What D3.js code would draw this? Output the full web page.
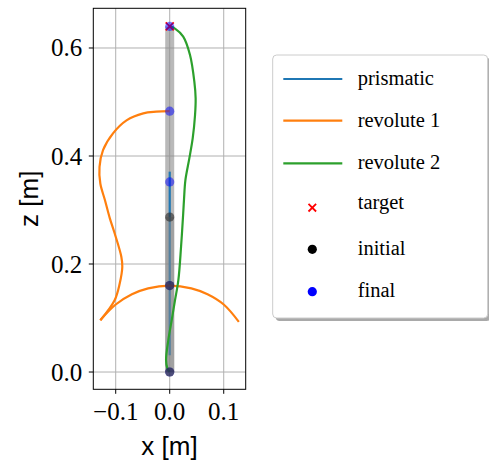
<!DOCTYPE html>
<html><head><meta charset="utf-8">
<script src="https://cdn.jsdelivr.net/npm/d3@7"></script>
<style>body{margin:0;background:#fff;} svg{display:block;}</style>
</head><body>
<script>
// ---- data ----
const xTicks = [-0.1, 0.0, 0.1];
const xTickLabels = ["\u22120.1", "0.0", "0.1"];
const zTicks = [0.0, 0.2, 0.4, 0.6];
const zTickLabels = ["0.0", "0.2", "0.4", "0.6"];

const prismaticX = [0, 0];
const prismaticZ = [0.031, 0.371];

const rev1aX = [0, -0.025, -0.049, -0.08, -0.105, -0.1235, -0.130, -0.1285, -0.120, -0.111, -0.102, -0.0896, -0.0878, -0.0926, -0.102, -0.1285];
const rev1aZ = [0.483, 0.482, 0.479, 0.466, 0.442, 0.411, 0.380, 0.349, 0.3185, 0.285, 0.257, 0.2135, 0.195, 0.164, 0.133, 0.096];
const rev1bX = [-0.1285, -0.1, -0.07, -0.04, 0, 0.04, 0.07, 0.1, 0.128];
const rev1bZ = [0.096, 0.125, 0.144, 0.155, 0.16, 0.155, 0.144, 0.125, 0.093];

const rev2X = [0, 0.0098, 0.025, 0.0376, 0.0456, 0.048, 0.0469, 0.0426, 0.0364, 0.029, 0.0265, 0.025, 0.021, 0.016, 0.0098, 0.0037, -0.0026, -0.0068, -0.0044, 0];
const rev2Z = [0.64, 0.636, 0.621, 0.587, 0.5376, 0.507, 0.476, 0.433, 0.396, 0.355, 0.32, 0.294, 0.232, 0.170, 0.133, 0.096, 0.059, 0.022, 0.007, 0.0];

const targetX = [0];
const targetZ = [0.64];
const initialX = [0, 0, 0];
const initialZ = [0, 0.16, 0.287];
const finalX = [0, 0, 0, 0, 0];
const finalZ = [0, 0.16, 0.352, 0.483, 0.64];

const legendLabels = ["prismatic", "revolute 1", "revolute 2", "target", "initial", "final"];
const colors = {prismatic: "#1f77b4", rev1: "#ff7f0e", rev2: "#2ca02c"};

// ---- layout ----
const W = 489, H = 465;
const svg = d3.select("body").append("svg").attr("width", W).attr("height", H);
const L = 93.3, R = 245.7, T = 8.3, B = 389.3;
const x = d3.scaleLinear().domain([-0.1415, 0.1407]).range([L, R]);
const y = d3.scaleLinear().domain([-0.032, 0.6735]).range([B, T]);
const serif = "'Liberation Serif', 'DejaVu Serif', serif";
const sans = "'Liberation Sans', 'DejaVu Sans', sans-serif";

// grid
const grid = svg.append("g");
xTicks.forEach(t => grid.append("line").attr("x1", x(t)).attr("x2", x(t)).attr("y1", T).attr("y2", B)
  .attr("stroke", "#b0b0b0").attr("stroke-width", 1));
zTicks.forEach(t => grid.append("line").attr("x1", L).attr("x2", R).attr("y1", y(t)).attr("y2", y(t))
  .attr("stroke", "#b0b0b0").attr("stroke-width", 1));

const plot = svg.append("g");
const line = d3.line().x(d => x(d[0])).y(d => y(d[1])).curve(d3.curveCatmullRom.alpha(0.5));
const straight = d3.line().x(d => x(d[0])).y(d => y(d[1]));
const zip = (a, b) => a.map((v, i) => [v, b[i]]);

// final arm (gray)
plot.append("path").attr("d", straight(zip(finalX, finalZ)))
  .attr("stroke", "#8a8a8a").attr("stroke-opacity", 0.6).attr("stroke-width", 9).attr("fill", "none");
// prismatic
plot.append("path").attr("d", straight(zip(prismaticX, prismaticZ)))
  .attr("stroke", colors.prismatic).attr("stroke-width", 2.2).attr("fill", "none");
// initial arm (gray)
plot.append("path").attr("d", straight(zip(initialX, initialZ)))
  .attr("stroke", "#8a8a8a").attr("stroke-opacity", 0.5).attr("stroke-width", 9).attr("fill", "none");

// revolute 1
plot.append("path").attr("d", line(zip(rev1aX, rev1aZ))).attr("stroke", colors.rev1).attr("stroke-width", 2.2).attr("fill", "none");
plot.append("path").attr("d", line(zip(rev1bX, rev1bZ))).attr("stroke", colors.rev1).attr("stroke-width", 2.2).attr("fill", "none");
// revolute 2
plot.append("path").attr("d", line(zip(rev2X, rev2Z))).attr("stroke", colors.rev2).attr("stroke-width", 2.2).attr("fill", "none");

// target
function cross(g, cx, cy, s, col, w) {
  g.append("path").attr("d", `M${cx - s},${cy - s}L${cx + s},${cy + s}M${cx - s},${cy + s}L${cx + s},${cy - s}`)
    .attr("stroke", col).attr("stroke-width", w).attr("fill", "none");
}
zip(targetX, targetZ).forEach(d => cross(plot, x(d[0]), y(d[1]), 4, "red", 1.8));
// final markers
plot.selectAll(".fin").data(zip(finalX, finalZ)).enter().append("circle")
  .attr("cx", d => x(d[0])).attr("cy", d => y(d[1])).attr("r", 4.6).attr("fill", "blue").attr("fill-opacity", 0.5);
// initial markers
plot.selectAll(".ini").data(zip(initialX, initialZ)).enter().append("circle")
  .attr("cx", d => x(d[0])).attr("cy", d => y(d[1])).attr("r", 4.6).attr("fill", "#333").attr("fill-opacity", 0.65);

// frame
svg.append("rect").attr("x", L).attr("y", T).attr("width", R - L).attr("height", B - T)
  .attr("fill", "none").attr("stroke", "black").attr("stroke-width", 1);

// ticks
const ax = svg.append("g");
xTicks.forEach((t, i) => {
  ax.append("line").attr("x1", x(t)).attr("x2", x(t)).attr("y1", B).attr("y2", B + 4.5).attr("stroke", "black");
  ax.append("text").attr("x", x(t)).attr("y", B + 31).attr("text-anchor", "middle")
    .attr("font-family", serif).attr("font-size", 25).text(xTickLabels[i]);
});
zTicks.forEach((t, i) => {
  ax.append("line").attr("x1", L - 4.5).attr("x2", L).attr("y1", y(t)).attr("y2", y(t)).attr("stroke", "black");
  ax.append("text").attr("x", L - 11).attr("y", y(t) + 8.5).attr("text-anchor", "end")
    .attr("font-family", serif).attr("font-size", 25).text(zTickLabels[i]);
});
// axis labels
svg.append("text").attr("x", (L + R) / 2).attr("y", 455).attr("text-anchor", "middle")
  .attr("font-family", sans).attr("font-size", 26).text("x [m]");
svg.append("text").attr("transform", `translate(37.5,${(T + B) / 2}) rotate(-90)`).attr("text-anchor", "middle")
  .attr("font-family", sans).attr("font-size", 26).text("z [m]");

// legend
const lg = svg.append("g");
const lx = 272.7, ly = 55, lw = 215, lh = 263;
lg.append("rect").attr("x", lx + 3).attr("y", ly + 3).attr("width", lw).attr("height", lh).attr("rx", 4)
  .attr("fill", "#a0a0a0").attr("opacity", 0.9);
lg.append("rect").attr("x", lx).attr("y", ly).attr("width", lw).attr("height", lh).attr("rx", 4)
  .attr("fill", "white").attr("stroke", "#cccccc").attr("stroke-width", 1);
const lineYs = [79, 120.7, 163.3];
const lineCols = [colors.prismatic, colors.rev1, colors.rev2];
lineYs.forEach((yy, i) => {
  lg.append("line").attr("x1", 283.3).attr("x2", 342.3).attr("y1", yy).attr("y2", yy)
    .attr("stroke", lineCols[i]).attr("stroke-width", 2.2);
  lg.append("text").attr("x", 357.7).attr("y", yy + 6).attr("font-family", serif).attr("font-size", 20.5).text(legendLabels[i]);
});
cross(lg, 312.3, 207.7, 3.8, "red", 1.8);
lg.append("text").attr("x", 357.7).attr("y", 209).attr("font-family", serif).attr("font-size", 20.5).text(legendLabels[3]);
lg.append("circle").attr("cx", 312.3).attr("cy", 249.3).attr("r", 4.6).attr("fill", "black");
lg.append("text").attr("x", 357.7).attr("y", 255).attr("font-family", serif).attr("font-size", 20.5).text(legendLabels[4]);
lg.append("circle").attr("cx", 312.3).attr("cy", 291.7).attr("r", 4.6).attr("fill", "blue");
lg.append("text").attr("x", 357.7).attr("y", 297).attr("font-family", serif).attr("font-size", 20.5).text(legendLabels[5]);
</script>
</body></html>
